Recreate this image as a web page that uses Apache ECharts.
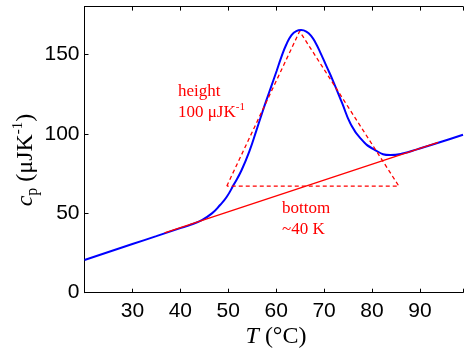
<!DOCTYPE html>
<html>
<head>
<meta charset="utf-8">
<script src="https://cdn.jsdelivr.net/npm/echarts@6/dist/echarts.min.js"></script>
<style>
  html, body { margin: 0; padding: 0; background: #fff; }
  #chart { width: 466px; height: 352px; }
</style>
</head>
<body>
<div id="chart"></div>
<script>
// measured curve (T in °C, cp in µJ/K)
const curveT = [20, 25, 30, 35, 40, 41.7, 44.5, 46.6, 48.3, 49.7, 51.1, 52.8, 54.5, 55.9, 56.9, 57.9, 59.0, 60.1, 61.1, 62.1, 63.1, 64.2, 65.2, 66.3, 67.3, 68.3, 69.3, 70.5, 71.8, 73.8, 75.5, 77.6, 80.4, 83.8, 86.6, 89.4, 93.5, 99]
const curveCp = [20.6, 25.6, 30.6, 35.6, 40.6, 42.2, 45.7, 49.9, 55.2, 60.4, 67.7, 77.2, 89.7, 102.3, 111.5, 120.5, 130, 139.5, 148.4, 156, 161.6, 164.6, 165.2, 164.3, 161.6, 156.8, 150.6, 142.5, 133.8, 119.1, 106.5, 97.1, 90.2, 86.6, 87.7, 90.2, 94, 99.4]

// baseline fit
const baseT = [36.7, 93.8]
const baseCp = [37.6, 94.6]

// dashed triangle (height / bottom construction)
const triT = [49.7, 64.9, 85.6, 49.7]
const triCp = [67.1, 164.5, 67.1, 67.1]

const xTicks = [30, 40, 50, 60, 70, 80, 90]
const yTicks = [0, 50, 100, 150]

const zip = (a, b) => a.map((v, i) => [v, b[i]])

const chart = echarts.init(document.getElementById('chart'))

const axisCommon = {
  type: 'value',
  min: 20,
  max: 99,
  interval: 10,
  splitLine: { show: false },
  axisLine: { lineStyle: { color: '#000', width: 1 } },
  axisTick: { inside: true, length: 4, lineStyle: { color: '#000' } },
}

const serif = '"Liberation Serif", "DejaVu Serif", serif'

chart.setOption({
  animation: false,
  grid: { left: 84.5, right: 0, top: 6.6, bottom: 59.3 },
  xAxis: [
    {
      ...axisCommon,
      position: 'bottom',
      axisLabel: {
        color: '#000',
        fontFamily: '"Liberation Sans", Arial, sans-serif',
        fontSize: 21,
        margin: 8,
        formatter: v => (xTicks.includes(v) ? String(v) : ''),
      },
    },
    {
      ...axisCommon,
      position: 'top',
      axisLabel: { show: false },
    },
  ],
  yAxis: {
    type: 'value',
    min: 0,
    max: 180,
    interval: 50,
    splitLine: { show: false },
    axisLine: { lineStyle: { color: '#000', width: 1 } },
    axisTick: { inside: true, length: 4, lineStyle: { color: '#000' } },
    axisLabel: {
      color: '#000',
      fontFamily: '"Liberation Sans", Arial, sans-serif',
      fontSize: 21,
      margin: 5,
      showMaxLabel: false,
      formatter: v => (yTicks.includes(v) ? String(v) : ''),
    },
  },
  series: [
    {
      type: 'line',
      data: zip(curveT, curveCp),
      smooth: 0.5,
      showSymbol: false,
      lineStyle: { color: '#0000ff', width: 2 },
      z: 2,
    },
    {
      type: 'line',
      data: zip(baseT, baseCp),
      showSymbol: false,
      lineStyle: { color: '#ff0000', width: 1.3 },
      z: 3,
    },
    {
      type: 'line',
      data: zip(triT, triCp),
      showSymbol: false,
      lineStyle: { color: '#ff0000', width: 1.3, type: [4, 3] },
      z: 3,
    },
  ],
  graphic: [
    {
      type: 'text',
      x: 178,
      y: 92,
      style: {
        text: 'height',
        fill: '#ff0000',
        font: '17px ' + serif,
        verticalAlign: 'middle',
      },
    },
    {
      type: 'text',
      x: 178,
      y: 113,
      style: {
        text: '100 μJK{s|-1}',
        fill: '#ff0000',
        font: '17px ' + serif,
        verticalAlign: 'middle',
        rich: {
          s: { fontSize: 11, fontFamily: serif, fill: '#ff0000', verticalAlign: 'top', lineHeight: 22 },
        },
      },
    },
    {
      type: 'text',
      x: 282,
      y: 209,
      style: {
        text: 'bottom',
        fill: '#ff0000',
        font: '17px ' + serif,
        verticalAlign: 'middle',
      },
    },
    {
      type: 'text',
      x: 282,
      y: 230,
      style: {
        text: '~40 K',
        fill: '#ff0000',
        font: '17px ' + serif,
        verticalAlign: 'middle',
      },
    },
    {
      type: 'text',
      x: 276,
      y: 337,
      style: {
        text: '{i|T} ({n|°}C)',
        fill: '#000',
        font: '24px ' + serif,
        align: 'center',
        verticalAlign: 'middle',
        rich: {
          i: { fontSize: 24, fontFamily: serif, fontStyle: 'italic', fill: '#000' },
          n: { fontSize: 24, fontFamily: serif, fill: '#000' },
        },
      },
    },
    {
      type: 'text',
      x: 26,
      y: 160,
      rotation: Math.PI / 2,
      style: {
        text: '{i|c}{sub|p} (μJK{sup|-1})',
        fill: '#000',
        font: '24px ' + serif,
        align: 'center',
        verticalAlign: 'middle',
        rich: {
          i: { fontSize: 24, fontFamily: serif, fontStyle: 'italic', fill: '#000', lineHeight: 30 },
          sub: { fontSize: 16, fontFamily: serif, fill: '#000', verticalAlign: 'bottom', lineHeight: 30 },
          sup: { fontSize: 15, fontFamily: serif, fill: '#000', verticalAlign: 'top', lineHeight: 30 },
        },
      },
    },
  ],
})
</script>
</body>
</html>
